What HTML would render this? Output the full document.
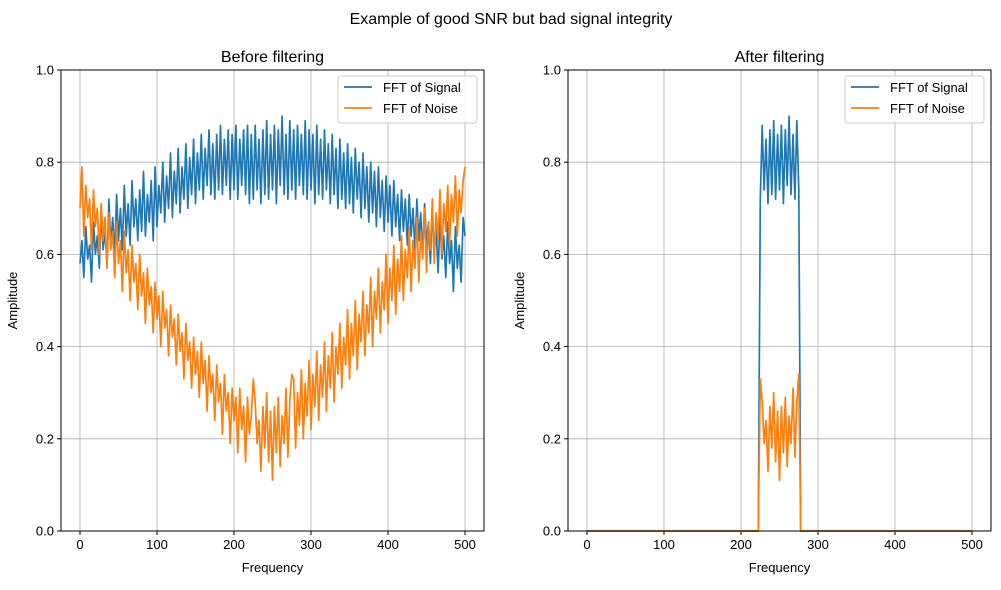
<!DOCTYPE html>
<html><head><meta charset="utf-8"><style>
body{margin:0;background:#fff}
svg{font-family:"Liberation Sans","DejaVu Sans",sans-serif}
</style></head><body>
<svg id="chart" width="1001" height="585" viewBox="0 0 1001 585">
<text x="511" y="24" font-size="16" text-anchor="middle">Example of good SNR but bad signal integrity</text>
</svg>
<script>
const freqStep = 2.5;
const signalAmp = [0.58,0.63,0.55,0.66,0.59,0.62,0.54,0.67,0.60,0.64,
0.57,0.69,0.61,0.65,0.58,0.72,0.62,0.68,0.60,0.73,
0.63,0.70,0.61,0.75,0.64,0.71,0.62,0.76,0.66,0.72,
0.63,0.74,0.65,0.78,0.64,0.73,0.67,0.76,0.63,0.79,
0.66,0.75,0.69,0.80,0.67,0.77,0.70,0.82,0.68,0.78,
0.71,0.83,0.69,0.79,0.72,0.84,0.70,0.81,0.73,0.85,
0.71,0.82,0.74,0.86,0.72,0.83,0.75,0.87,0.73,0.84,
0.72,0.86,0.74,0.88,0.73,0.85,0.75,0.87,0.72,0.86,
0.74,0.88,0.72,0.85,0.75,0.87,0.73,0.88,0.71,0.86,
0.72,0.88,0.74,0.85,0.71,0.87,0.73,0.89,0.72,0.86,
0.74,0.88,0.71,0.87,0.75,0.90,0.73,0.86,0.72,0.89,
0.74,0.87,0.72,0.88,0.75,0.86,0.73,0.89,0.72,0.87,
0.74,0.86,0.71,0.88,0.73,0.85,0.72,0.87,0.74,0.84,
0.71,0.86,0.73,0.83,0.70,0.85,0.72,0.82,0.70,0.84,
0.71,0.81,0.69,0.83,0.72,0.80,0.68,0.82,0.70,0.79,
0.67,0.80,0.69,0.78,0.66,0.79,0.68,0.76,0.65,0.77,
0.67,0.75,0.64,0.76,0.66,0.73,0.63,0.74,0.65,0.72,
0.62,0.73,0.64,0.70,0.61,0.72,0.63,0.69,0.60,0.71,
0.62,0.67,0.58,0.70,0.60,0.66,0.56,0.68,0.59,0.64,
0.55,0.67,0.58,0.63,0.52,0.66,0.57,0.62,0.54,0.68,
0.64];
const noiseAmp = [0.70,0.79,0.64,0.75,0.68,0.72,0.61,0.74,0.66,0.70,
0.60,0.71,0.63,0.68,0.57,0.69,0.61,0.65,0.55,0.67,
0.58,0.63,0.52,0.65,0.56,0.61,0.50,0.62,0.54,0.58,
0.48,0.60,0.51,0.56,0.45,0.57,0.49,0.53,0.43,0.54,
0.46,0.51,0.40,0.52,0.44,0.48,0.38,0.49,0.42,0.46,
0.36,0.47,0.39,0.43,0.33,0.45,0.37,0.41,0.31,0.42,
0.34,0.39,0.29,0.41,0.32,0.37,0.26,0.38,0.30,0.34,
0.24,0.36,0.28,0.32,0.21,0.34,0.26,0.30,0.19,0.31,
0.24,0.29,0.17,0.31,0.22,0.27,0.15,0.29,0.21,0.25,
0.33,0.28,0.19,0.24,0.13,0.27,0.18,0.30,0.15,0.26,
0.11,0.27,0.17,0.29,0.14,0.25,0.19,0.31,0.16,0.28,
0.34,0.33,0.18,0.30,0.23,0.35,0.20,0.32,0.25,0.37,
0.22,0.34,0.27,0.39,0.24,0.36,0.29,0.41,0.26,0.38,
0.31,0.43,0.28,0.40,0.34,0.45,0.31,0.42,0.36,0.48,
0.33,0.45,0.38,0.50,0.35,0.47,0.41,0.52,0.38,0.49,
0.43,0.55,0.40,0.52,0.46,0.57,0.43,0.54,0.48,0.60,
0.45,0.57,0.50,0.62,0.47,0.59,0.52,0.64,0.50,0.61,
0.55,0.66,0.52,0.63,0.57,0.68,0.54,0.65,0.59,0.70,
0.56,0.67,0.61,0.72,0.58,0.69,0.63,0.74,0.60,0.71,
0.65,0.75,0.62,0.73,0.67,0.77,0.64,0.74,0.69,0.76,
0.79];
const passBand = [225, 275];
const xTicks = [0,100,200,300,400,500];
const yTicks = [0.0,0.2,0.4,0.6,0.8,1.0];
const titles = ["Before filtering","After filtering"];

const NS="http://www.w3.org/2000/svg";
const svg=document.getElementById('chart');
function mk(tag,attrs,parent){const e=document.createElementNS(NS,tag);for(const k in attrs)e.setAttribute(k,attrs[k]);(parent||svg).appendChild(e);return e;}

function drawPanel(px, idx, filtered){
  const L=px, R=px+423, T=70, B=531;
  const xs=f=>L+19+(f/500)*385;
  const ys=v=>B-(v)*(B-T);
  const g=mk('g',{});
  
  
  xTicks.forEach(t=>{
    const l=mk('line',{x1:xs(t),x2:xs(t),y1:T,y2:B,stroke:'#b0b0b0','stroke-width':0.8},g);
    
    mk('line',{x1:xs(t),x2:xs(t),y1:B,y2:B+4,stroke:'#000'},g);
    const tx=mk('text',{x:xs(t),y:B+18,'font-size':13,'text-anchor':'middle'},g);tx.textContent=t;
    
  });
  yTicks.forEach(t=>{
    const l=mk('line',{x1:L,x2:R,y1:ys(t),y2:ys(t),stroke:'#b0b0b0','stroke-width':0.8},g);
    
    mk('line',{x1:L-4,x2:L,y1:ys(t),y2:ys(t),stroke:'#000'},g);
    const tx=mk('text',{x:L-7,y:ys(t)+4.5,'font-size':13,'text-anchor':'end'},g);tx.textContent=t.toFixed(1);
    
  });
  function series(arr,color,name){
    let pts=[];
    arr.forEach((v,i)=>{
      const f=i*freqStep;
      let val=v;
      if(filtered && (f<passBand[0]||f>passBand[1])) val=0;
      pts.push(xs(f).toFixed(1)+','+ys(val).toFixed(1));
    });
    const p=mk('polyline',{points:pts.join(' '),fill:'none',stroke:color,'stroke-width':1.7,'stroke-linejoin':'round'},g);
    
  }
  series(signalAmp,'#1f77b4','signal-fft-line');
  series(noiseAmp,'#ff7f0e','noise-fft-line');
  const fr=mk('rect',{x:L,y:T,width:R-L,height:B-T,fill:'none',stroke:'#000','stroke-width':1},g);
  
  const tt=mk('text',{x:(L+R)/2,y:T-8,'font-size':16,'text-anchor':'middle'},g);tt.textContent=titles[idx];
  
  const xl=mk('text',{x:(L+R)/2,y:572,'font-size':13,'text-anchor':'middle'},g);xl.textContent='Frequency';
  
  const yl=mk('text',{x:L-44,y:(T+B)/2,'font-size':13,'text-anchor':'middle',transform:`rotate(-90 ${L-44} ${(T+B)/2})`},g);yl.textContent='Amplitude';
  
  const lg=mk('g',{},g);
  
  mk('rect',{x:R-146,y:T+6,width:139,height:47,rx:3,fill:'#fff','fill-opacity':0.85,stroke:'#ccc'},lg);
  [['FFT of Signal','#1f77b4'],['FFT of Noise','#ff7f0e']].forEach((e,i)=>{
    const y=T+21+i*21;
    const ln=mk('line',{x1:R-140,x2:R-112,y1:y-4,y2:y-4,stroke:e[1],'stroke-width':1.7},lg);
    
    const t=mk('text',{x:R-101,y:y+1,'font-size':13},lg);t.textContent=e[0];
    
  });
}
drawPanel(61,0,false);
drawPanel(568,1,true);
</script>
</body></html>
